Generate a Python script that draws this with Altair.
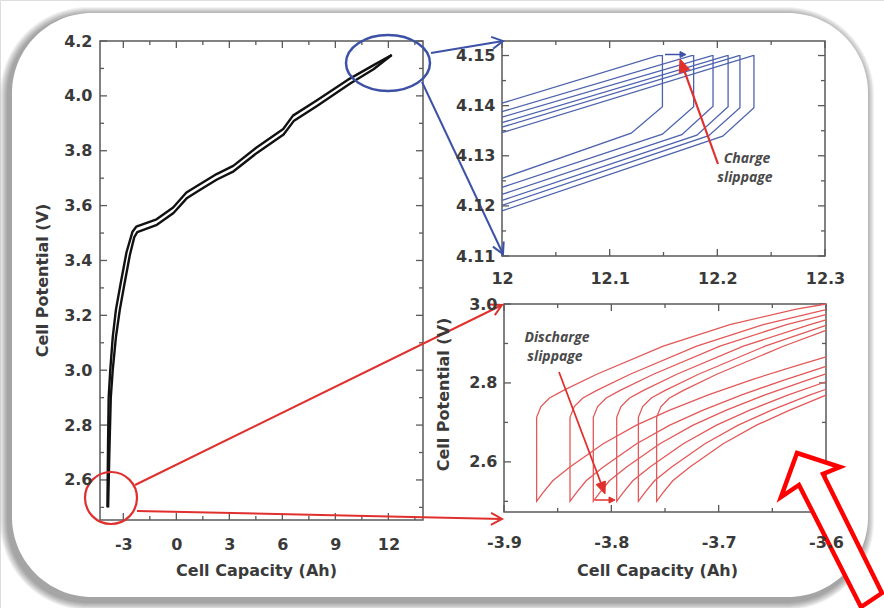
import math
import altair as alt
import pandas as pd

W, H = 884, 608
FONT = "DejaVu Sans"
NOTE_FONT = "Open Sans"
TXT = "#3a3a3a"
FRAME = "#5a5a5a"
BLUE_LINE = "#4d62ad"
RED_LINE = "#e35858"
BLUE_MARK = "#3d52a6"
RED_MARK = "#e0302e"

# ---------------- full voltage profile (left panel) ----------------
charge_cap = [-3.90, -3.87, -3.83, -3.74, -3.60, -3.42, -3.17, -2.82, -2.48, -2.27, -1.12,
              -0.18, 0.57, 1.33, 2.28, 3.22, 4.54, 6.05, 6.60, 7.94, 9.82, 11.14, 12.19]
charge_v = [2.50, 2.70, 2.90, 3.00, 3.12, 3.22, 3.31, 3.43, 3.505, 3.523, 3.550,
            3.593, 3.648, 3.678, 3.715, 3.745, 3.812, 3.879, 3.928, 3.983, 4.063, 4.111, 4.149]
discharge_cap = [-3.86, -3.79, -3.71, -3.60, -3.42, -3.20, -2.95, -2.63, -2.38, -2.21, -1.10,
                 -0.16, 0.61, 1.35, 2.30, 3.24, 4.56, 6.07, 6.64, 7.96, 9.84, 11.16, 12.19]
discharge_v = [2.50, 2.70, 2.90, 3.00, 3.12, 3.22, 3.31, 3.42, 3.485, 3.503, 3.530,
               3.573, 3.628, 3.658, 3.695, 3.725, 3.792, 3.859, 3.908, 3.963, 4.045, 4.097, 4.149]

# ---------------- end-of-charge detail (top-right panel), one entry per cycle ----------------
top_charge_start_v = [4.1405, 4.1388, 4.1377, 4.1366, 4.1357, 4.1346]   # at 12.0 Ah
top_charge_end_cap = [12.145, 12.176, 12.195, 12.209, 12.220, 12.233]   # reaches 4.15 V
top_rest_cap = [12.149, 12.178, 12.196, 12.210, 12.221, 12.234]         # vertical relaxation
top_rest_v = [4.1398, 4.1398, 4.1399, 4.1398, 4.1396, 4.1396]
top_knee_cap = [12.120, 12.149, 12.167, 12.181, 12.192, 12.205]
top_knee_v = [4.1345, 4.1343, 4.1342, 4.1341, 4.1340, 4.1339]
top_discharge_end_v = [4.1255, 4.1237, 4.1223, 4.1211, 4.1201, 4.1190]  # at 12.0 Ah

# ---------------- end-of-discharge detail (bottom-right panel) ----------------
bot_min_cap = [-3.8696, -3.8385, -3.8168, -3.7950, -3.7748, -3.7578]
charge_shape_dq = [0.0, 0.004, 0.012, 0.025, 0.056, 0.118, 0.180, 0.242, 0.270]
charge_shape_v = [2.713, 2.740, 2.762, 2.781, 2.822, 2.893, 2.948, 2.987, 3.000]
disch_shape_dq = [0.0, 0.006, 0.015, 0.031, 0.062, 0.093, 0.124, 0.160, 0.200, 0.240, 0.270]
disch_shape_v = [2.500, 2.522, 2.552, 2.587, 2.646, 2.693, 2.731, 2.770, 2.808, 2.842, 2.866]
bot_charge_edge_v = [3.000, 2.986, 2.973, 2.960, 2.946, 2.933]       # at -3.6 Ah
bot_disch_edge_v = [2.866, 2.842, 2.823, 2.803, 2.784, 2.769]        # at -3.6 Ah

# tick values
main_x_major = [-3, 0, 3, 6, 9, 12]
main_x_minor = [-1.5, 1.5, 4.5, 7.5, 10.5, 13.5]
main_y_major = [2.6, 2.8, 3.0, 3.2, 3.4, 3.6, 3.8, 4.0, 4.2]
main_y_minor = [2.5, 2.7, 2.9, 3.1, 3.3, 3.5, 3.7, 3.9, 4.1]
top_x_major = [12.0, 12.1, 12.2, 12.3]
top_x_minor = [12.05, 12.15, 12.25]
top_y_major = [4.11, 4.12, 4.13, 4.14, 4.15]
top_y_minor = [4.115, 4.125, 4.135, 4.145]
bot_x_major = [-3.9, -3.8, -3.7, -3.6]
bot_x_minor = [-3.85, -3.75, -3.65]
bot_y_major = [2.6, 2.8, 3.0]
bot_y_minor = [2.5, 2.7, 2.9]

# ---------------- tables ----------------
main_df = pd.concat([
    pd.DataFrame({"x": charge_cap, "y": charge_v, "s": "charge", "k": range(len(charge_cap))}),
    pd.DataFrame({"x": discharge_cap, "y": discharge_v, "s": "discharge", "k": range(len(discharge_cap))}),
])

rows = []
for c in range(len(top_rest_cap)):
    pts = [(12.0, top_charge_start_v[c]), (top_charge_end_cap[c], 4.15), (top_rest_cap[c], 4.15),
           (top_rest_cap[c], top_rest_v[c]), (top_knee_cap[c], top_knee_v[c]), (12.0, top_discharge_end_v[c])]
    for k, (x, y) in enumerate(pts):
        rows.append({"x": x, "y": y, "c": c, "k": k})
top_df = pd.DataFrame(rows)

rows = []
for c, q0 in enumerate(bot_min_cap):
    pts = [(-3.6, bot_disch_edge_v[c])]
    pts += [(q0 + d, v) for d, v in reversed(list(zip(disch_shape_dq, disch_shape_v))) if q0 + d < -3.6]
    pts += [(q0 + d, v) for d, v in zip(charge_shape_dq, charge_shape_v) if q0 + d < -3.6]
    pts += [(-3.6, bot_charge_edge_v[c])]
    for k, (x, y) in enumerate(pts):
        rows.append({"x": x, "y": y, "c": c, "k": k})
bot_df = pd.DataFrame(rows)

ONE = pd.DataFrame({"a": [0]})


def lbl_expr(fmt):
    return f"datum.value < 0 ? '-' + format(-datum.value, '{fmt}') : format(datum.value, '{fmt}')"


AXIS_STYLE = dict(domain=False, ticks=False, tickSize=0, grid=False, labelFont=FONT,
                  labelFontSize=16, labelFontWeight="bold", labelColor=TXT, labelOverlap=False,
                  labelFlush=False, titleFont=FONT, titleFontSize=16, titleFontWeight="bold",
                  titleColor=TXT, zindex=1)


def panel(xdom, xrng, ydom, yrng, ticks, fmts, xaxis_extra, yaxis_extra, content):
    xs = alt.Scale(domain=xdom, range=xrng, nice=False, zero=False)
    ys = alt.Scale(domain=ydom, range=yrng, nice=False, zero=False)
    xa = alt.Axis(orient="bottom", offset=yrng[0] - H, values=ticks[0], labelExpr=lbl_expr(fmts[0]),
                  **AXIS_STYLE, **xaxis_extra)
    ya = alt.Axis(orient="left", offset=-xrng[0], values=ticks[2], labelExpr=lbl_expr(fmts[1]),
                  **AXIS_STYLE, **yaxis_extra)

    def X(f):
        return alt.X(f, type="quantitative", scale=xs, axis=xa)

    def Y(f):
        return alt.Y(f, type="quantitative", scale=ys, axis=ya)

    frame = alt.Chart(pd.DataFrame({"x0": [xdom[0]], "x1": [xdom[1]], "y0": [ydom[0]], "y1": [ydom[1]]})) \
        .mark_rect(fillOpacity=0, stroke=FRAME, strokeWidth=1.5) \
        .encode(x=X("x0"), x2="x1", y=Y("y0"), y2="y1")

    xl, xr = xrng
    yb, yt = yrng
    layers = [frame]
    for vals, L in ((ticks[0], 7), (ticks[1], 4)):
        base = alt.Chart(pd.DataFrame({"t": vals})).mark_rule(color=FRAME, strokeWidth=1.3)
        layers.append(base.encode(x=X("t"), y=alt.value(yb), y2=alt.value(yb - L)))
        layers.append(base.encode(x=X("t"), y=alt.value(yt), y2=alt.value(yt + L)))
    for vals, L in ((ticks[2], 7), (ticks[3], 4)):
        base = alt.Chart(pd.DataFrame({"t": vals})).mark_rule(color=FRAME, strokeWidth=1.3)
        layers.append(base.encode(y=Y("t"), x=alt.value(xl), x2=alt.value(xl + L)))
        layers.append(base.encode(y=Y("t"), x=alt.value(xr), x2=alt.value(xr - L)))
    layers += content(X, Y)
    return alt.layer(*layers)


def main_content(X, Y):
    return [alt.Chart(main_df).mark_line(color="#111111", strokeWidth=2.4, strokeJoin="round")
            .encode(x=X("x"), y=Y("y"), detail="s:N", order="k:Q")]


def top_content(X, Y):
    return [alt.Chart(top_df).mark_line(color=BLUE_LINE, strokeWidth=1.3)
            .encode(x=X("x"), y=Y("y"), detail="c:N", order="k:Q")]


def bot_content(X, Y):
    return [alt.Chart(bot_df).mark_line(color=RED_LINE, strokeWidth=1.3)
            .encode(x=X("x"), y=Y("y"), detail="c:N", order="k:Q")]


main_panel = panel([-4.32, 13.96], [100, 423], [2.454, 4.2], [520, 41],
                   (main_x_major, main_x_minor, main_y_major, main_y_minor), ("d", ".1f"),
                   dict(labelPadding=16, title="Cell Capacity (Ah)", titleX=256, titleY=55,
                        titleBaseline="alphabetic"),
                   dict(labelPadding=8, title="Cell Potential (V)", titleX=-58, titleY=280,
                        titleBaseline="middle"),
                   main_content)

top_panel = panel([12.0, 12.3], [502, 825], [4.11, 4.1529], [256, 41],
                  (top_x_major, top_x_minor, top_y_major, top_y_minor), ("~g", ".2f"),
                  dict(labelPadding=14, title=None),
                  dict(labelPadding=7, title=None),
                  top_content)

bot_panel = panel([-3.9, -3.6], [504, 826], [2.473, 3.0], [512, 304],
                  (bot_x_major, bot_x_minor, bot_y_major, bot_y_minor), (".1f", ".1f"),
                  dict(labelPadding=22, title="Cell Capacity (Ah)", titleX=657, titleY=63,
                       titleBaseline="alphabetic"),
                  dict(labelPadding=7, title="Cell Potential (V)", titleX=-61, titleY=394,
                       titleBaseline="middle"),
                  bot_content)


# ---------------- card, call-outs and annotations ----------------
def box(x0, y0, x1, y1, **kw):
    return alt.Chart(ONE).mark_rect(**kw).encode(
        x=alt.value(x0), x2=alt.value(x1), y=alt.value(y0), y2=alt.value(y1))


def shape(d, color, width=2.0, fill=None):
    kw = dict(shape=d, size=4, opacity=1, strokeWidth=width, stroke=color)
    if fill is None:
        kw["filled"] = False
    else:
        kw["filled"] = True
        kw["fill"] = fill
    return alt.Chart(ONE).mark_point(**kw).encode(x=alt.value(0), y=alt.value(0))


def arrow(x0, y0, x1, y1, color, width, head_len, head_w, filled):
    dx, dy = x1 - x0, y1 - y0
    n = math.hypot(dx, dy)
    ux, uy = dx / n, dy / n
    px, py = -uy, ux
    bx, by = x1 - head_len * ux, y1 - head_len * uy
    a = (bx + head_w * px, by + head_w * py)
    b = (bx - head_w * px, by - head_w * py)
    if filled:
        shaft = f"M{x0:.1f},{y0:.1f}L{bx:.1f},{by:.1f}"
        head = f"M{a[0]:.1f},{a[1]:.1f}L{x1:.1f},{y1:.1f}L{b[0]:.1f},{b[1]:.1f}Z"
        return [shape(shaft, color, width), shape(head, color, 1, fill=color)]
    shaft = f"M{x0:.1f},{y0:.1f}L{x1:.1f},{y1:.1f}"
    head = f"M{a[0]:.1f},{a[1]:.1f}L{x1:.1f},{y1:.1f}L{b[0]:.1f},{b[1]:.1f}"
    return [shape(shaft, color, width), shape(head, color, width)]


def label(x, y, s, size=14):
    return alt.Chart(ONE).mark_text(font=NOTE_FONT, fontSize=size, fontWeight="bold", fontStyle="italic",
                                    color="#4a4a4a", baseline="middle", align="center") \
        .encode(x=alt.value(x), y=alt.value(y), text=alt.value(s))


background = []
for i in range(1, 9):
    background.append(box(12 - 4 - i, 13 + 2 - i, 868 - 2 + i, 597 + 5 + i,
                          cornerRadius=80 + i, color="black", opacity=0.05))
background.append(box(12, 13, 868, 597, cornerRadius=80, color="white"))

deco = []
deco.append(shape("M346,63A42,28 0 1 0 430,63A42,28 0 1 0 346,63Z", BLUE_MARK, 2.5))
deco += arrow(431, 53, 503, 41, BLUE_MARK, 2.0, 11, 6, False)
deco += arrow(422, 82, 503, 254, BLUE_MARK, 2.0, 11, 6, False)
deco.append(shape("M85,498A26,26 0 1 0 137,498A26,26 0 1 0 85,498Z", RED_MARK, 2.2))
deco += arrow(135, 485, 502, 305, RED_MARK, 2.0, 11, 6, False)
deco += arrow(137, 511, 502, 519, RED_MARK, 2.0, 11, 6, False)
deco += arrow(665, 54.5, 686, 54.5, BLUE_MARK, 1.5, 6, 3, True)
deco += arrow(718, 164, 680, 59, RED_MARK, 2.2, 13, 5.5, True)
deco += arrow(595, 500, 615, 500, RED_MARK, 1.5, 6, 3, True)
deco += arrow(559, 372, 605, 494, RED_MARK, 1.8, 12, 5, True)
deco.append(label(747, 159, "Charge"))
deco.append(label(745, 178, "slippage"))
deco.append(label(557, 338, "Discharge"))
deco.append(label(555, 357, "slippage"))
deco.append(shape("M797,453L840,467L823,474L882,593L861,607L799,485L781,497Z",
                  "#ff0000", 4.5, fill="white"))

chart = alt.layer(*background, main_panel, top_panel, bot_panel, *deco) \
    .resolve_scale(x="independent", y="independent") \
    .properties(width=W, height=H, padding=0, autosize="none") \
    .configure_view(strokeWidth=0) \
    .configure(background="white")

chart.save("out.html", embed_options={"renderer": "svg", "actions": False})
